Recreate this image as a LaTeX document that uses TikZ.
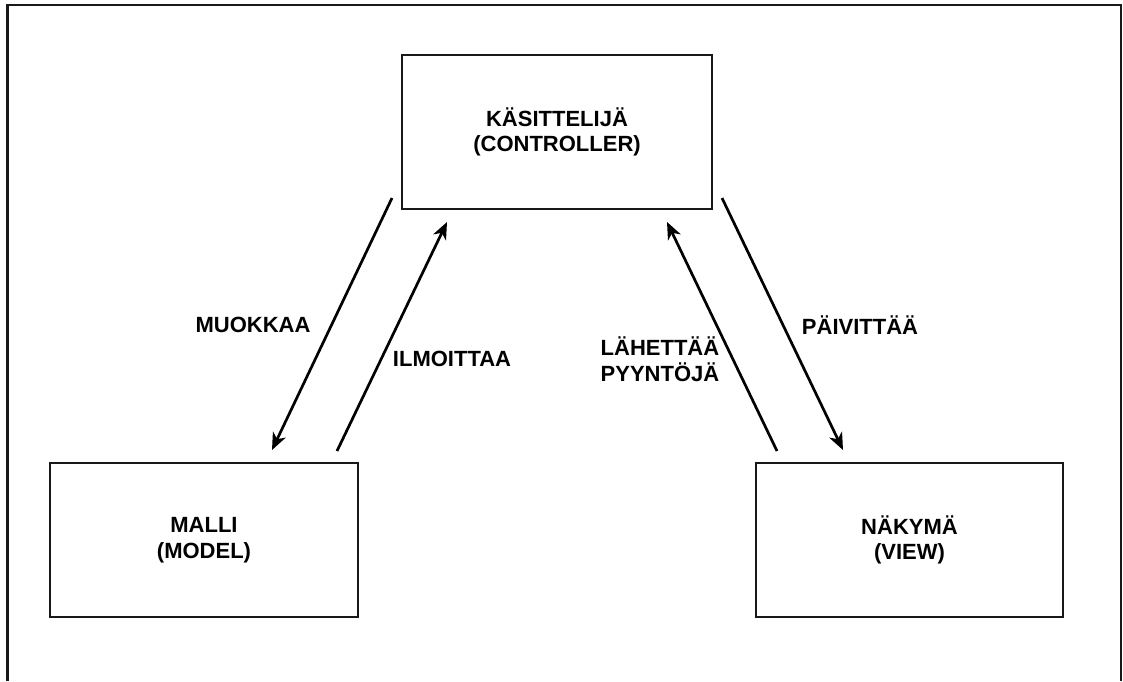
\documentclass[tikz,border=0pt]{standalone}
\usepackage{fontspec}
\setmainfont{Liberation Sans}
\usetikzlibrary{arrows.meta}
\begin{document}
\begin{tikzpicture}[x=1pt,y=-1pt,
  box/.style={draw=black!90,line width=2pt,minimum width=#1,minimum height=154pt,inner sep=0pt,align=center,font=\fontsize{22}{25.5}\selectfont\bfseries},
  lbl/.style={inner sep=0pt,align=left,font=\fontsize{22}{25.5}\selectfont\bfseries},
  conn/.style={line width=2.7pt,-{Stealth[length=17pt,width=14pt,inset=5pt]}}]
\useasboundingbox (0,0) rectangle (1123,681);
\draw[line width=2.2pt,black!90] (7.5,681) -- (7.5,5) -- (1121,5) -- (1121,681);
\node[box=310pt] (ctrl) at (557,132) {KÄSITTELIJÄ\\(CONTROLLER)};
\node[box=308pt] (model) at (204,540) {MALLI\\(MODEL)};
\node[box=307pt] (view) at (909.5,540) {NÄKYMÄ\\(VIEW)};
\coordinate (m1) at (392,198);
\coordinate (m2) at (272,450);
\coordinate (i1) at (337,451);
\coordinate (i2) at (447,222);
\coordinate (l1) at (777,451);
\coordinate (l2) at (667,222);
\coordinate (p1) at (722,198);
\coordinate (p2) at (843,450);
\draw[conn] (m1) -- (m2);
\draw[conn] (i1) -- (i2);
\draw[conn] (l1) -- (l2);
\draw[conn] (p1) -- (p2);
\node[lbl] (muokkaa) at (253,325) {MUOKKAA};
\node[lbl] (ilmoittaa) at (452,359) {ILMOITTAA};
\node[lbl] (lahettaa) at (660,359) {LÄHETTÄÄ\\PYYNTÖJÄ};
\node[lbl] (paivittaa) at (860,325) {PÄIVITTÄÄ};
\end{tikzpicture}
\end{document}
